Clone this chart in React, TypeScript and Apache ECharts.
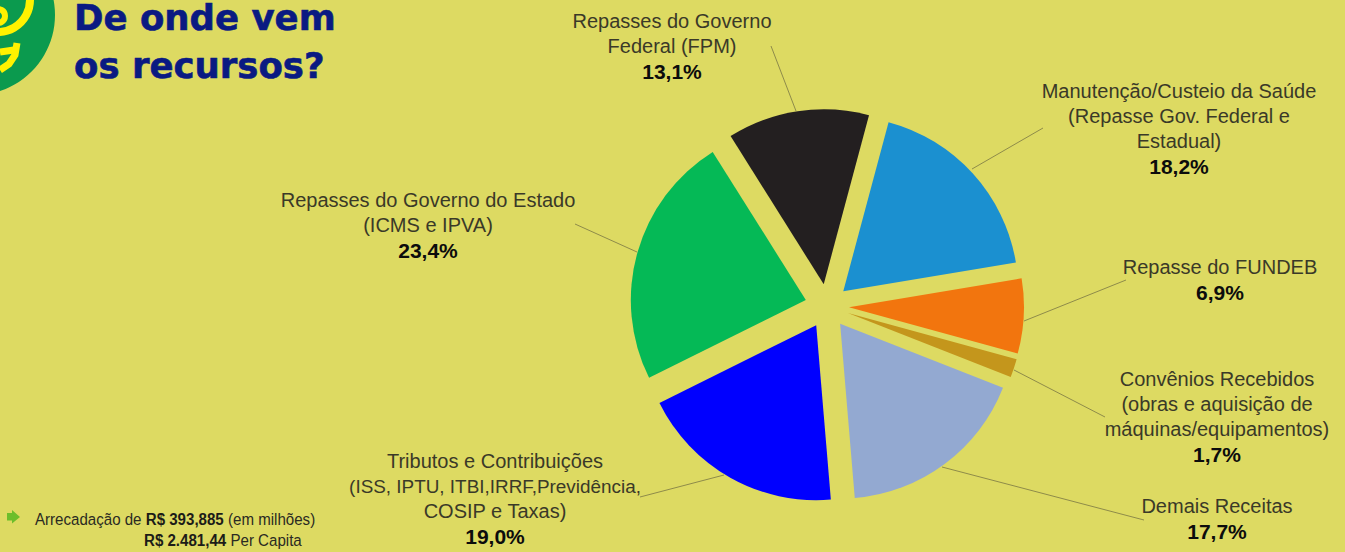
import React, { useEffect, useRef } from "react";
import * as echarts from "echarts";

const names = [
  ["Manutenção/Custeio da Saúde", "(Repasse Gov. Federal e", "Estadual)"],
  ["Repasse do FUNDEB"],
  ["Convênios Recebidos", "(obras e aquisição de", "máquinas/equipamentos)"],
  ["Demais Receitas"],
  ["Tributos e Contribuições", "(ISS, IPTU, ITBI,IRRF,Previdência,", "COSIP e Taxas)"],
  ["Repasses do Governo do Estado", "(ICMS e IPVA)"],
  ["Repasses do Governo", "Federal (FPM)"],
];
const values = [18.2, 6.9, 1.7, 17.7, 19.0, 23.4, 13.1];
const colors = ["#1B90D0", "#F2750E", "#C4961C", "#93A9D1", "#0000FF", "#05B956", "#231F20"];
const titleLines = ["De onde vem", "os recursos?"];
const tightLine = "(ISS, IPTU, ITBI,IRRF,Previdência,";

// label placement: [centre x, first line y], leader line [from, to]
const labelAnchors = [
  [1179, 91], [1220, 267], [1217, 379], [1217, 506], [495, 461], [428, 200], [672, 21],
];
const leaders = [
  [[972, 169], [1043, 128]],
  [[1024, 321], [1126, 280]],
  [[1014, 370], [1105, 417]],
  [[942, 467], [1144, 520]],
  [[724, 475], [640, 497]],
  [[637, 252], [575, 224]],
  [[796, 111], [771, 46]],
];

const BG = "#DDDA62";
const NAVY = "#0A1A82";
const YELLOW = "#FFF200";

const legendRich = {
  n: { fontFamily: "Liberation Sans", fontSize: 17, fill: "#2a2a22" },
  b: { fontFamily: "Liberation Sans", fontWeight: "bold", fontSize: 17, fill: "#1c1c18" },
};
const titleStyle = {
  fontFamily: "DejaVu Sans",
  fontWeight: 700,
  fontSize: 35.5,
  lineHeight: 35,
  fill: NAVY,
  stroke: NAVY,
  lineWidth: 0.6,
  textVerticalAlign: "middle",
};

export default function App() {
  const ref = useRef<HTMLDivElement>(null);
  useEffect(() => {
    const chart = echarts.init(ref.current!, null, { renderer: "svg" });
    const pieBase = {
      type: "pie",
      center: [827, 306],
      radius: [0, 175],
      startAngle: 75,
      clockwise: true,
      avoidLabelOverlap: false,
      silent: true,
    };
    chart.setOption({
      animation: false,
      backgroundColor: BG,
      series: [
        {
          ...pieBase,
          selectedMode: "multiple",
          selectedOffset: 22,
          data: values.map((v, i) => ({
            name: names[i].join(" "),
            value: v,
            selected: true,
            itemStyle: { color: colors[i] },
          })),
          label: { show: false },
          labelLine: { show: false },
        },
        {
          ...pieBase,
          data: values.map((v, i) => ({
            name: names[i].join(" "),
            value: v,
            itemStyle: { color: "transparent" },
          })),
          label: {
            show: true,
            position: "outside",
            formatter: (p: any) =>
              names[p.dataIndex].map((l) => `{${l === tightLine ? "t" : "n"}|${l}}`).join("\n") +
              `\n{b|${values[p.dataIndex].toFixed(1).replace(".", ",")}%}`,
            rich: {
              n: { fontFamily: "Liberation Sans", fontSize: 20, lineHeight: 25, color: "#3a3928" },
              t: { fontFamily: "Liberation Sans", fontSize: 18.9, lineHeight: 25, color: "#3a3928" },
              b: { fontFamily: "Liberation Sans", fontSize: 21, fontWeight: "bold", lineHeight: 25, color: "#0c0c0c" },
            },
          },
          labelLine: { show: true, lineStyle: { color: "#8E8B4A", width: 1 } },
          labelLayout: (p: any) => {
            const [x, y] = labelAnchors[p.dataIndex];
            return {
              x,
              y: y - 12.5,
              align: "center",
              verticalAlign: "top",
              labelLinePoints: leaders[p.dataIndex],
            };
          },
        },
      ],
      graphic: [
        { type: "circle", shape: { cx: -25, cy: 15, r: 80 }, style: { fill: "#0B9A4E" } },
        { type: "circle", shape: { cx: -2, cy: 0, r: 32 }, style: { fill: "none", stroke: YELLOW, lineWidth: 8 } },
        { type: "circle", shape: { cx: -2, cy: 16, r: 7 }, style: { fill: "none", stroke: YELLOW, lineWidth: 6 } },
        { type: "polyline", shape: { points: [[17, 43], [15, 55], [9, 64], [0, 70]] }, style: { fill: "none", stroke: YELLOW, lineWidth: 7 } },
        { type: "line", shape: { x1: 0, y1: 52, x2: 14, y2: 50 }, style: { stroke: YELLOW, lineWidth: 7 } },
        { type: "text", x: 74, y: 17.5, style: { text: titleLines[0], ...titleStyle } },
        { type: "text", x: 74, y: 65, style: { text: titleLines[1], ...titleStyle } },
        {
          type: "polygon",
          shape: { points: [[7, 513], [12, 513], [12, 510], [20, 517], [12, 523.5], [12, 520.5], [7, 520.5]] },
          style: { fill: "#6CBE2B" },
        },
        {
          type: "text", x: 35, y: 519, scaleX: 0.888,
          style: {
            text: "{n|Arrecadação de }{b|R$ 393,885}{n| (em milhões)}",
            textVerticalAlign: "middle",
            rich: legendRich,
          },
        },
        {
          type: "text", x: 144, y: 540, scaleX: 0.888,
          style: {
            text: "{b|R$ 2.481,44}{n| Per Capita}",
            textVerticalAlign: "middle",
            rich: legendRich,
          },
        },
      ],
    });
    return () => chart.dispose();
  }, []);
  return <div ref={ref} style={{ position: "fixed", left: 0, top: 0, width: 1345, height: 552 }} />;
}
